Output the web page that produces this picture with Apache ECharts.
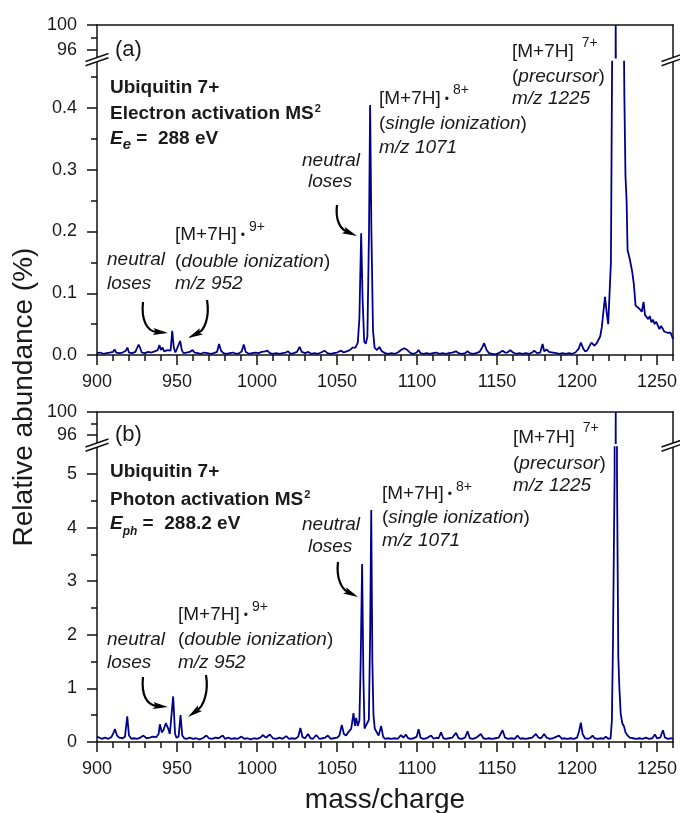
<!DOCTYPE html>
<html><head><meta charset="utf-8">
<script src="https://cdn.jsdelivr.net/npm/echarts@6/dist/echarts.min.js"></script>
<style>html,body{margin:0;padding:0;background:#fff}#c{width:680px;height:813px}</style>
</head><body><div id="c"></div>
<script>
// ---------- DATA ----------
const spectrumA = [
[900,0.003],[902,0.004],[904,0.002],[906,0.003],[908,0.004],[910,0.005],[911,0.009],[912,0.004],[914,0.003],[916,0.004],[918,0.007],[919,0.012],[920,0.004],[922,0.003],[924,0.005],[926,0.017],[927,0.011],[928,0.004],[930,0.003],[932,0.005],[934,0.004],[936,0.006],[938,0.008],[939,0.016],[940,0.008],[941,0.012],[942,0.006],[944,0.008],[946,0.007],[947,0.039],[948,0.012],[949,0.004],[950,0.006],[952,0.023],[953,0.008],[954,0.003],[956,0.004],[958,0.005],[959.7,0.008],[961,0.004],[963,0.003],[965,0.002],[967,0.004],[969,0.003],[971,0.002],[973,0.003],[975,0.005],[976.3,0.018],[977.5,0.007],[979,0.003],[981,0.002],[983,0.003],[985,0.004],[987,0.002],[989,0.003],[990.5,0.006],[991.7,0.017],[993,0.005],[995,0.002],[997,0.003],[999,0.004],[1001,0.003],[1003,0.005],[1005,0.006],[1006.5,0.007],[1008,0.003],[1010,0.002],[1012,0.003],[1014,0.002],[1016,0.003],[1018,0.004],[1019.5,0.006],[1021,0.002],[1023,0.003],[1025,0.005],[1026.6,0.013],[1028,0.005],[1030,0.003],[1032,0.005],[1034,0.002],[1036,0.003],[1038,0.002],[1040,0.004],[1042.2,0.007],[1044,0.003],[1046,0.002],[1048,0.003],[1050,0.004],[1052.6,0.007],[1054,0.004],[1056,0.006],[1058,0.008],[1059.7,0.012],[1061.5,0.012],[1063,0.02],[1064,0.06],[1065.1,0.197],[1066,0.09],[1067,0.022],[1068,0.018],[1069,0.03],[1070,0.2],[1070.7,0.405],[1071.5,0.2],[1072.5,0.04],[1073.5,0.012],[1075,0.008],[1076.5,0.013],[1078,0.006],[1080,0.003],[1082,0.002],[1084,0.003],[1086,0.002],[1088,0.004],[1090,0.008],[1092,0.011],[1094,0.008],[1096,0.003],[1098,0.002],[1099.8,0.004],[1101,0.008],[1102.2,0.003],[1104,0.002],[1106,0.003],[1108,0.002],[1110,0.003],[1112,0.004],[1114,0.002],[1116,0.003],[1118,0.002],[1120,0.003],[1122,0.004],[1124.4,0.006],[1126,0.003],[1128,0.002],[1130,0.003],[1131.6,0.006],[1133,0.003],[1135,0.002],[1137,0.003],[1139,0.005],[1140.5,0.011],[1142,0.019],[1143.5,0.008],[1145,0.003],[1147,0.002],[1149,0.001],[1151,0.003],[1153.5,0.007],[1155,0.004],[1156.5,0.004],[1158.3,0.008],[1160,0.004],[1162,0.002],[1164,0.003],[1166,0.002],[1168,0.003],[1170,0.002],[1172,0.004],[1173.3,0.007],[1175,0.003],[1177,0.004],[1178.5,0.018],[1179.5,0.006],[1181,0.009],[1182.5,0.005],[1183.7,0.008],[1185,0.004],[1187,0.003],[1189,0.002],[1191,0.003],[1193,0.002],[1195,0.003],[1197,0.002],[1199,0.004],[1201,0.01],[1202.4,0.02],[1204,0.01],[1205,0.006],[1206.3,0.007],[1207.5,0.004],[1209,0.02],[1209.7,0.023],[1211,0.015],[1212.5,0.02],[1213.5,0.017],[1214.5,0.03],[1215.5,0.045],[1216.5,0.07],[1217.5,0.094],[1218.5,0.07],[1219.5,0.05],[1220.3,0.052],[1221.2,0.15],[1222,0.5],[1223,20],[1224.2,100],[1225,40],[1226,10],[1227,3],[1228,1.5],[1229,0.6],[1229.6,0.42],[1230.3,0.29],[1231,0.25],[1231.6,0.17],[1233,0.155],[1234.5,0.135],[1235.6,0.113],[1236.6,0.08],[1237.7,0.078],[1239,0.075],[1240.5,0.07],[1241.6,0.086],[1242.5,0.065],[1243.5,0.062],[1244.5,0.058],[1245.5,0.063],[1246.5,0.053],[1247.5,0.057],[1248.5,0.05],[1249.5,0.054],[1250.5,0.048],[1251.5,0.042],[1252.5,0.047],[1253.5,0.043],[1254.5,0.038],[1255.5,0.041],[1256.5,0.036],[1257.5,0.039],[1258.5,0.036],[1260,0.026]
];
const spectrumB = [
[900,0.1],[901,0.07],[903,0.06],[905,0.08],[907,0.06],[909,0.09],[910,0.15],[911.2,0.24],[912.5,0.12],[914,0.08],[916,0.07],[917.5,0.1],[918.9,0.48],[920,0.12],[921.5,0.06],[923,0.07],[925,0.06],[927,0.08],[929,0.12],[931,0.07],[933,0.08],[935,0.1],[937,0.09],[938.5,0.15],[939.3,0.33],[940.5,0.18],[941.5,0.22],[943,0.35],[944.5,0.25],[945.5,0.15],[946.5,0.12],[947.6,0.85],[948.8,0.15],[949.7,0.08],[951,0.1],[952.2,0.5],[953.3,0.12],[954.5,0.07],[956,0.06],[958,0.08],[960,0.06],[962,0.07],[964,0.05],[966,0.07],[968.4,0.12],[970,0.07],[972,0.06],[974,0.08],[976,0.07],[978.6,0.12],[980,0.06],[982,0.08],[984,0.06],[986,0.07],[988,0.06],[990.3,0.1],[992,0.06],[994,0.07],[996,0.05],[998,0.07],[1000,0.06],[1002,0.08],[1003.8,0.13],[1005.5,0.08],[1008,0.14],[1010,0.07],[1012,0.06],[1014,0.08],[1016,0.06],[1018.3,0.11],[1020,0.06],[1022,0.07],[1024,0.06],[1025.8,0.1],[1027.1,0.26],[1028.5,0.09],[1030,0.07],[1031.9,0.15],[1033.5,0.07],[1035,0.06],[1037,0.13],[1039,0.06],[1041,0.07],[1042.5,0.08],[1044.3,0.12],[1046,0.06],[1048,0.07],[1050,0.08],[1051.5,0.12],[1053,0.32],[1054.3,0.15],[1055.7,0.12],[1057,0.18],[1058.9,0.25],[1060.3,0.54],[1061.2,0.3],[1062,0.45],[1063,0.3],[1064,0.4],[1064.8,1.5],[1065.7,3.32],[1066.5,1.2],[1067.2,0.25],[1068,0.3],[1069,0.33],[1069.9,0.41],[1070.7,2.0],[1071.4,4.33],[1072.1,1.5],[1072.8,0.5],[1073.6,0.25],[1074.5,0.2],[1076,0.12],[1077.6,0.3],[1078.8,0.1],[1080,0.06],[1082,0.07],[1084,0.06],[1086,0.07],[1088,0.06],[1090,0.13],[1091.5,0.08],[1093,0.14],[1094.5,0.07],[1096,0.06],[1098,0.07],[1099.8,0.1],[1101,0.24],[1102.2,0.08],[1104,0.06],[1106,0.07],[1108.8,0.12],[1110.5,0.06],[1112,0.08],[1113.5,0.07],[1115,0.18],[1116.5,0.07],[1118,0.06],[1120,0.07],[1122,0.08],[1124.4,0.17],[1126,0.07],[1128,0.06],[1130,0.08],[1131.6,0.2],[1133,0.07],[1135,0.06],[1137,0.08],[1139.9,0.15],[1141.5,0.07],[1143,0.06],[1145,0.07],[1147,0.06],[1149,0.07],[1151,0.08],[1153.5,0.22],[1155,0.08],[1157,0.06],[1159,0.07],[1161,0.06],[1162.8,0.12],[1164.5,0.06],[1166,0.07],[1168,0.06],[1170,0.07],[1172,0.08],[1174.3,0.15],[1176,0.08],[1177.5,0.07],[1179.5,0.15],[1181,0.08],[1183,0.06],[1185,0.07],[1186.5,0.09],[1188.8,0.12],[1190.5,0.06],[1192,0.07],[1194,0.06],[1196,0.07],[1198,0.06],[1200,0.08],[1201.3,0.2],[1202.4,0.36],[1203.5,0.15],[1205,0.07],[1207,0.06],[1208.5,0.08],[1209.7,0.12],[1211,0.07],[1213,0.06],[1215,0.07],[1216.5,0.06],[1218,0.1],[1219.5,0.06],[1221,0.07],[1221.8,0.4],[1222.5,1.9],[1223.5,5],[1223.9,40],[1224.2,100],[1224.5,40],[1225,5],[1225.8,1.6],[1226.5,1.0],[1227.3,0.53],[1228.3,0.35],[1229.4,0.29],[1230.3,0.18],[1231.4,0.13],[1233,0.08],[1235,0.07],[1237,0.06],[1239,0.07],[1241,0.06],[1243,0.08],[1245,0.06],[1247,0.07],[1248.7,0.14],[1250,0.07],[1252,0.08],[1253.7,0.22],[1255,0.08],[1257,0.06],[1259,0.07],[1260,0.06]
];
const xMajorTicks = [900,950,1000,1050,1100,1150,1200,1250];
const xMinorTicks = [910,920,930,940,960,970,980,990,1010,1020,1030,1040,1060,1070,1080,1090,1110,1120,1130,1140,1160,1170,1180,1190,1210,1220,1230,1240,1260];
const yTicksA = [0,0.1,0.2,0.3,0.4];
const yMinorA = [0.05,0.15,0.25,0.35,0.45];
const yTicksB = [0,1,2,3,4,5];
const yMinorB = [0.5,1.5,2.5,3.5,4.5];
const topTicks = [96,100];
const topMinor = [98];

// ---------- LAYOUT ----------
const FF = '"Liberation Sans", Arial, Helvetica, sans-serif';
const X_MIN = 900, X_MAX = 1260;
const LEFT = 97, RIGHT = 7;
const AUp = {top:25, min:94.8, max:100, h:5.2*6.25};
const ALo = {bottom:355, min:0, max:0.475, h:0.475*617.5};
const BUp = {top:412, min:94.6, max:100, h:5.4*5.75};
const BLo = {bottom:742, min:0, max:5.5, h:5.5*53.6};
const TXT = '#1a1a1a';
const AX = {color:'#111', width:1.5};
const LINE_COLOR = '#00008b';

const grids = [
  {left:LEFT, right:RIGHT, top:AUp.top, height:AUp.h, outerBoundsMode:'none'},
  {left:LEFT, right:RIGHT, top:ALo.bottom-ALo.h, height:ALo.h, outerBoundsMode:'none'},
  {left:LEFT, right:RIGHT, top:BUp.top, height:BUp.h, outerBoundsMode:'none'},
  {left:LEFT, right:RIGHT, top:BLo.bottom-BLo.h, height:BLo.h, outerBoundsMode:'none'}
];
const lbl = {fontSize:18, fontFamily:FF, color:TXT};
const fInt = v => String(Math.round(v));
const fOne = v => v.toFixed(1);
function xTop(g){return {type:'value',gridIndex:g,position:'top',min:X_MIN,max:X_MAX,axisLine:{show:true,onZero:false,lineStyle:AX},axisTick:{show:false},axisLabel:{show:false},splitLine:{show:false}};}
function xMain(g){return {type:'value',gridIndex:g,position:'bottom',min:X_MIN,max:X_MAX,axisLine:{show:true,onZero:false,lineStyle:AX},axisTick:{show:true,length:10,customValues:xMajorTicks,lineStyle:AX},axisLabel:Object.assign({customValues:xMajorTicks,margin:18,formatter:fInt},lbl),splitLine:{show:false}};}
function xMinor(g){return {type:'value',gridIndex:g,position:'bottom',min:X_MIN,max:X_MAX,axisLine:{show:false,onZero:false},axisTick:{show:true,length:6,customValues:xMinorTicks,lineStyle:AX},axisLabel:{show:false},splitLine:{show:false}};}
function yMain(g,min,max,ticks,fmt){return {type:'value',gridIndex:g,position:'left',min:min,max:max,axisLine:{show:true,onZero:false,lineStyle:AX},axisTick:{show:true,length:10,customValues:ticks,lineStyle:AX},axisLabel:Object.assign({customValues:ticks,margin:20,formatter:fmt},lbl),splitLine:{show:false}};}
function yMinor(g,min,max,ticks){return {type:'value',gridIndex:g,position:'left',min:min,max:max,axisLine:{show:false,onZero:false},axisTick:{show:true,length:6,customValues:ticks,lineStyle:AX},axisLabel:{show:false},splitLine:{show:false}};}
function yRight(g,min,max){return {type:'value',gridIndex:g,position:'right',min:min,max:max,axisLine:{show:true,onZero:false,lineStyle:AX},axisTick:{show:false},axisLabel:{show:false},splitLine:{show:false}};}

const xAxes = [xTop(0), xMain(1), xMinor(1), xTop(2), xMain(3), xMinor(3)];
const yAxes = [
  yMain(0,AUp.min,AUp.max,topTicks,fInt), yMinor(0,AUp.min,AUp.max,topMinor), yRight(0,AUp.min,AUp.max),
  yMain(1,ALo.min,ALo.max,yTicksA,fOne), yMinor(1,ALo.min,ALo.max,yMinorA), yRight(1,ALo.min,ALo.max),
  yMain(2,BUp.min,BUp.max,topTicks,fInt), yMinor(2,BUp.min,BUp.max,topMinor), yRight(2,BUp.min,BUp.max),
  yMain(3,BLo.min,BLo.max,yTicksB,fInt), yMinor(3,BLo.min,BLo.max,yMinorB), yRight(3,BLo.min,BLo.max)
];
function ser(data,xi,yi){return {type:'line',data:data,xAxisIndex:xi,yAxisIndex:yi,showSymbol:false,symbol:'none',clip:true,animation:false,lineStyle:{color:LINE_COLOR,width:1.8},itemStyle:{color:LINE_COLOR},z:3};}
const series = [ser(spectrumA,0,0), ser(spectrumA,1,3), ser(spectrumB,3,6), ser(spectrumB,4,9)];

// ---------- ANNOTATION HELPERS ----------
const mctx = document.createElement('canvas').getContext('2d');
function measure(t,p){mctx.font=(p.i?'italic ':'')+(p.b?'bold ':'')+p.s+'px '+FF;return mctx.measureText(t).width;}
function runs(x,base,parts){
  const out=[];let cx=x;
  for(const [t,p0] of parts){
    const p=Object.assign({s:19},p0||{});
    cx+=p.dx||0;
    out.push({type:'text',x:cx,y:base+(p.dy||0)-0.35*p.s,silent:true,z:50,
      style:{text:t,fontSize:p.s,fontFamily:FF,fontWeight:p.b?'bold':'normal',fontStyle:p.i?'italic':'normal',fill:TXT,align:'left',verticalAlign:'middle'}});
    cx+=measure(t,p);
  }
  return out;
}
const N={s:19}, I={s:19,i:true}, B={s:19,b:true}, BI={s:19,b:true,i:true};
function arrow(p0,c1,c2,tip){
  const hl=15,hw=7;
  const dx=tip[0]-c2[0],dy=tip[1]-c2[1],L=Math.hypot(dx,dy),ux=dx/L,uy=dy/L;
  const bx=tip[0]-ux*hl,by=tip[1]-uy*hl,px=-uy,py=ux;
  return [
    {type:'bezierCurve',silent:true,z:50,shape:{x1:p0[0],y1:p0[1],cpx1:c1[0],cpy1:c1[1],cpx2:c2[0],cpy2:c2[1],x2:bx+ux*3,y2:by+uy*3},style:{stroke:'#000',lineWidth:2.2,fill:null}},
    {type:'polygon',silent:true,z:50,shape:{points:[tip,[bx+px*hw/2,by+py*hw/2],[bx+ux*3,by+uy*3],[bx-px*hw/2,by-py*hw/2]]},style:{fill:'#000'}}
  ];
}
function brk(x,yTop,yBot){
  const hw=11.5, k=8/23;
  const L1=[[x-hw,yTop+hw*k],[x+hw,yTop-hw*k]];
  const L2=[[x-hw,yBot+hw*k],[x+hw,yBot-hw*k]];
  return [
    {type:'polygon',silent:true,z:60,shape:{points:[L1[0],L1[1],L2[1],L2[0]]},style:{fill:'#fff'}},
    {type:'line',silent:true,z:61,shape:{x1:L1[0][0],y1:L1[0][1],x2:L1[1][0],y2:L1[1][1]},style:{stroke:'#111',lineWidth:1.5}},
    {type:'line',silent:true,z:61,shape:{x1:L2[0][0],y1:L2[0][1],x2:L2[1][0],y2:L2[1][1]},style:{stroke:'#111',lineWidth:1.5}}
  ];
}
const sup = (dy)=>({s:14,dx:4,dy:dy});
const dot = {s:12,dx:4,dy:-1};

const aUpBot = AUp.top+AUp.h, aLoTop = ALo.bottom-ALo.h;
const bUpBot = BUp.top+BUp.h, bLoTop = BLo.bottom-BLo.h;
const XR = 680-RIGHT;

let G = [];
G = G.concat(runs(115,58,[['(a)',{s:22}]]), runs(115,443,[['(b)',{s:22}]]));
G = G.concat(
  runs(110,94,[['Ubiquitin 7+',B]]),
  runs(110,120.5,[['Electron activation MS',B],['2',{s:11,b:true,dx:1,dy:-8}]]),
  runs(110,145.5,[['E',BI],['e',{s:15,b:true,i:true,dy:5}],[' =  288 eV',B]])
);
G = G.concat(
  runs(110,478,[['Ubiquitin 7+',B]]),
  runs(110,506.5,[['Photon activation MS',B],['2',{s:11,b:true,dx:1,dy:-8}]]),
  runs(110,530.5,[['E',BI],['ph',{s:12,b:true,i:true,dy:5}],[' =  288.2 eV',B]])
);
G = G.concat(
  runs(512,58,[['[M+7H]',N],['7+',{s:14,dx:8,dy:-10}]]),
  runs(512,83,[['(',N],['precursor',I],[')',N]]),
  runs(512,105,[['m/z 1225',I]]),
  runs(379,105,[['[M+7H]',N],['\u2022',dot],['8+',sup(-10)]]),
  runs(379,130,[['(',N],['single ionization',I],[')',N]]),
  runs(379,154,[['m/z 1071',I]]),
  runs(302,167,[['neutral',I]]),
  runs(308,188,[['loses',I]]),
  runs(107,266,[['neutral',I]]),
  runs(107,290,[['loses',I]]),
  runs(175,241,[['[M+7H]',N],['\u2022',dot],['9+',sup(-9)]]),
  runs(175,268,[['(',N],['double ionization',I],[')',N]]),
  runs(175,290,[['m/z 952',I]])
);
G = G.concat(
  runs(513,444,[['[M+7H]',N],['7+',{s:14,dx:8,dy:-11}]]),
  runs(513,470,[['(',N],['precursor',I],[')',N]]),
  runs(513,492,[['m/z 1225',I]]),
  runs(382,500,[['[M+7H]',N],['\u2022',dot],['8+',sup(-8)]]),
  runs(382,524,[['(',N],['single ionization',I],[')',N]]),
  runs(382,547,[['m/z 1071',I]]),
  runs(302,531,[['neutral',I]]),
  runs(308,553,[['loses',I]]),
  runs(107,646,[['neutral',I]]),
  runs(107,669,[['loses',I]]),
  runs(178,621,[['[M+7H]',N],['\u2022',dot],['9+',sup(-9)]]),
  runs(178,646,[['(',N],['double ionization',I],[')',N]]),
  runs(178,669,[['m/z 952',I]])
);
G = G.concat(
  arrow([337,205],[335,221],[341,229],[357,236]),
  arrow([143,302],[141,320],[147,331],[168,333]),
  arrow([207,300],[210,318],[204,330],[188,338]),
  arrow([338,562],[336,579],[342,589],[358,597]),
  arrow([143,677],[141,695],[147,705],[168,707]),
  arrow([206,675],[209,693],[203,706],[188,717])
);
G = G.concat(brk(LEFT,aUpBot,aLoTop), brk(XR,aUpBot,aLoTop), brk(LEFT,bUpBot,bLoTop), brk(XR,bUpBot,bLoTop));
G.push({type:'text',x:24,y:397,rotation:Math.PI/2,silent:true,z:50,style:{text:'Relative abundance (%)',fontSize:28,fontFamily:FF,fill:TXT,align:'center',verticalAlign:'middle'}});
G.push({type:'text',x:385,y:800,silent:true,z:50,style:{text:'mass/charge',fontSize:28,fontFamily:FF,fill:TXT,align:'center',verticalAlign:'middle'}});

const chart = echarts.init(document.getElementById('c'));
chart.setOption({
  backgroundColor:'#fff',
  animation:false,
  grid:grids,
  xAxis:xAxes,
  yAxis:yAxes,
  series:series,
  graphic:{elements:G}
});
</script>
</body></html>
